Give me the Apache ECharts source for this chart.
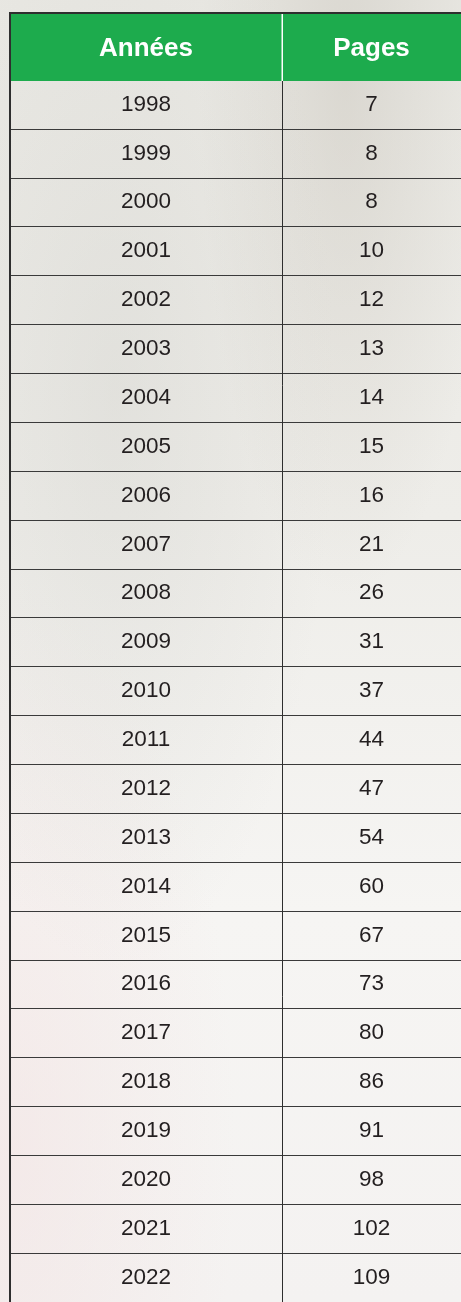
<!DOCTYPE html>
<html lang="fr">
<head>
    <meta charset="UTF-8">
    <title>Années / Pages</title>
    <script type="text/javascript" src="https://cdn.jsdelivr.net/npm/echarts@6/dist/echarts.min.js"></script>
    <style>
        html, body{
            margin: 0px;
            padding: 0px;
            overflow: hidden;
        }
        body{
            background-color: #efeeeb;
            background-image:
                radial-gradient(ellipse at 25% 30%, rgba(205,205,200,0.35), rgba(205,205,200,0) 45%),
                radial-gradient(ellipse at 75% 6%, rgba(195,190,180,0.4), rgba(195,190,180,0) 30%),
                radial-gradient(ellipse at 3% 88%, rgba(242,222,222,0.45), rgba(242,222,222,0) 35%),
                linear-gradient(to bottom, #e9e8e3 0%, #eeede9 40%, #f6f5f3 70%, #f4f2f1 100%);
        }
        #table{
            width: 461px;
            height: 1302px;
        }
    </style>
</head>
<body>
    <div id="table"></div>
    <script>
    var headers = ['Années', 'Pages'];
    var years = ['1998', '1999', '2000', '2001', '2002', '2003', '2004', '2005', '2006',
                 '2007', '2008', '2009', '2010', '2011', '2012', '2013', '2014', '2015',
                 '2016', '2017', '2018', '2019', '2020', '2021', '2022'];
    var pages = [7, 8, 8, 10, 12, 13, 14, 15, 16, 21, 26, 31, 37, 44, 47, 54, 60, 67,
                 73, 80, 86, 91, 98, 102, 109];

    var chart = echarts.init(document.getElementById('table'), null, {renderer: 'canvas'});

    var rowH = 49;
    var green = '#1dab4d';
    var ink = '#231f20';

    function cellText(params, api) {
        var pt = api.coord([api.value(0), api.value(1)]);
        return {
            type: 'text',
            style: {
                x: pt[0],
                y: pt[1],
                text: String(api.value(2)),
                align: 'center',
                verticalAlign: 'middle',
                fill: ink,
                font: '22.5px "Liberation Sans", Arial, sans-serif'
            }
        };
    }

    function makeX(i) {
        return {
            type: 'category',
            gridIndex: i,
            position: 'top',
            data: [headers[i]],
            z: 5,
            axisLine: {show: false},
            axisTick: {show: false},
            axisLabel: {
                color: '#ffffff',
                fontWeight: 'bold',
                fontSize: 26,
                fontFamily: '"Liberation Sans", Arial, sans-serif',
                verticalAlign: 'middle',
                margin: 31
            }
        };
    }

    function makeY(i, w) {
        return {
            type: 'category',
            gridIndex: i,
            inverse: true,
            data: years,
            axisLabel: {show: false},
            axisTick: {show: false},
            axisLine: {show: true, lineStyle: {color: '#2e2e2e', width: w}},
            splitLine: {show: true, interval: 0, lineStyle: {color: '#3a3a3a', width: 1}}
        };
    }

    chart.setOption({
        animation: false,
        backgroundColor: 'transparent',
        grid: [
            {left: 10, top: 80, width: 272, height: rowH * years.length},
            {left: 282, top: 80, width: 188, height: rowH * years.length}
        ],
        xAxis: [makeX(0), makeX(1)],
        yAxis: [makeY(0, 2), makeY(1, 1)],
        graphic: [
            // bordure et bandeau vert de l'en-tête
            {type: 'rect', left: 9, top: 12, z: 1, shape: {width: 470, height: 69},
             style: {fill: '#2e2e2e'}},
            {type: 'rect', left: 11, top: 14, z: 1, shape: {width: 470, height: 67},
             style: {fill: green}},
            {type: 'rect', left: 281.5, top: 14, z: 1, shape: {width: 1.5, height: 67},
             style: {fill: '#ffffff'}}
        ],
        series: [
            {
                type: 'custom',
                xAxisIndex: 0,
                yAxisIndex: 0,
                renderItem: cellText,
                encode: {x: 0, y: 1},
                data: years.map(function (y) { return [headers[0], y, y]; })
            },
            {
                type: 'custom',
                xAxisIndex: 1,
                yAxisIndex: 1,
                renderItem: cellText,
                encode: {x: 0, y: 1},
                data: pages.map(function (p, i) { return [headers[1], years[i], p]; })
            }
        ]
    });
    </script>
</body>
</html>
